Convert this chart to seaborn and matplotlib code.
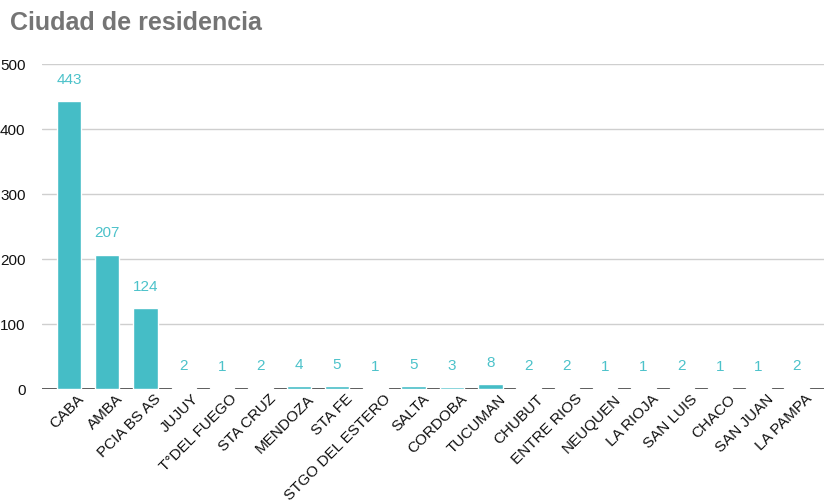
import pandas as pd
import seaborn as sns
import matplotlib.pyplot as plt
from matplotlib.transforms import ScaledTranslation

# data
ciudades = ["CABA", "AMBA", "PCIA BS AS", "JUJUY", "T°DEL FUEGO", "STA CRUZ", "MENDOZA",
            "STA FE", "STGO DEL ESTERO", "SALTA", "CORDOBA", "TUCUMAN", "CHUBUT",
            "ENTRE RIOS", "NEUQUEN", "LA RIOJA", "SAN LUIS", "CHACO", "SAN JUAN", "LA PAMPA"]
cantidad = [443, 207, 124, 2, 1, 2, 4, 5, 1, 5, 3, 8, 2, 2, 1, 1, 2, 1, 1, 2]
y_ticks = [0, 100, 200, 300, 400, 500]

df = pd.DataFrame({"ciudad": ciudades, "n": cantidad})

sns.set_theme(style="white")
plt.rcParams["font.family"] = ["Liberation Sans", "DejaVu Sans"]

fig = plt.figure(figsize=(8.26, 5.04), dpi=100)
ax = fig.add_axes([0.051, 0.228, 0.946, 0.645])

bar_color = "#45bdc6"
sns.barplot(data=df, x="ciudad", y="n", color=bar_color, saturation=1, width=0.64, ax=ax, zorder=3)

# value labels
for i, v in enumerate(cantidad):
    ax.text(i, v + 22, str(v), ha="center", va="bottom", color="#4cc2ca", fontsize=11)

ax.set_ylim(0, 500)
ax.set_yticks(y_ticks)
ax.set_xlim(-0.7, len(ciudades) - 0.3)
ax.grid(axis="y", color="#cfcfcf", linewidth=1, zorder=0)
ax.axhline(0, color="#444444", linewidth=1.2, zorder=2)
for s in ax.spines.values():
    s.set_visible(False)

ax.set_xlabel("")
ax.set_ylabel("")
ax.tick_params(axis="y", length=0, labelsize=11, labelcolor="#111111", pad=12)
ax.tick_params(axis="x", length=0, labelsize=11, labelcolor="#111111", pad=2)
plt.setp(ax.get_xticklabels(), rotation=45, ha="right", rotation_mode="anchor")
shift = ScaledTranslation(8 / 100, 0, fig.dpi_scale_trans)
for lbl in ax.get_xticklabels():
    lbl.set_transform(lbl.get_transform() + shift)

fig.text(0.012, 0.955, "Ciudad de residencia", fontsize=18, fontweight="bold",
         color="#757575", ha="left", va="center")

fig.savefig("out.png", dpi=100)
